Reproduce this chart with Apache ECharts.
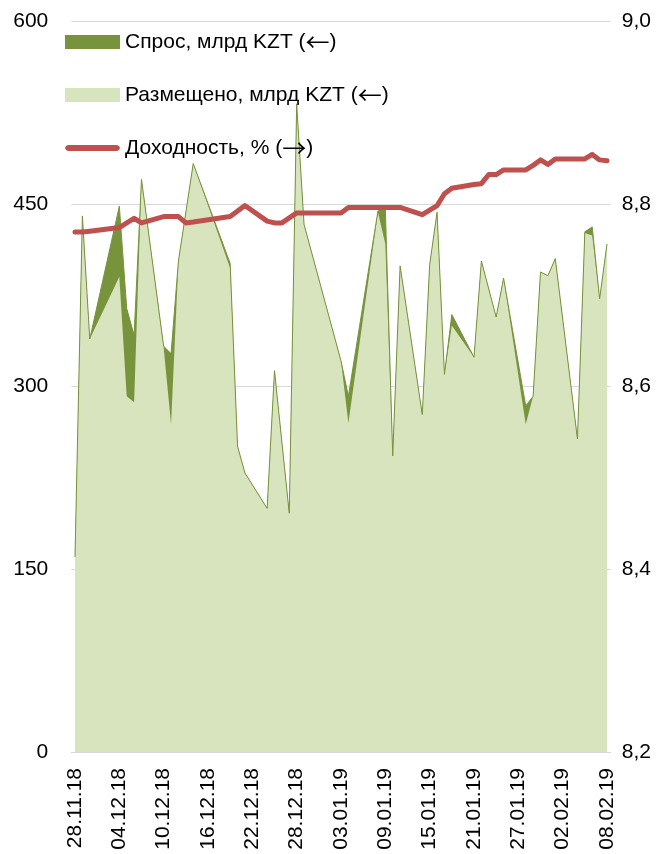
<!DOCTYPE html>
<html>
<head>
<meta charset="utf-8">
<script src="https://cdn.jsdelivr.net/npm/echarts@6/dist/echarts.min.js"></script>
<style>
html,body{margin:0;padding:0;background:#fff;}
#chart{width:669px;height:854px;}
</style>
</head>
<body>
<div id="chart"></div>
<script>
const dates = ['28.11.18','29.11.18','30.11.18','01.12.18','02.12.18','03.12.18','04.12.18','05.12.18','06.12.18','07.12.18',
'08.12.18','09.12.18','10.12.18','11.12.18','12.12.18','13.12.18','14.12.18','15.12.18','16.12.18','17.12.18',
'18.12.18','19.12.18','20.12.18','21.12.18','22.12.18','23.12.18','24.12.18','25.12.18','26.12.18','27.12.18',
'28.12.18','29.12.18','30.12.18','31.12.18','01.01.19','02.01.19','03.01.19','04.01.19','05.01.19','06.01.19',
'07.01.19','08.01.19','09.01.19','10.01.19','11.01.19','12.01.19','13.01.19','14.01.19','15.01.19','16.01.19',
'17.01.19','18.01.19','19.01.19','20.01.19','21.01.19','22.01.19','23.01.19','24.01.19','25.01.19','26.01.19',
'27.01.19','28.01.19','29.01.19','30.01.19','31.01.19','01.02.19','02.02.19','03.02.19','04.02.19','05.02.19',
'06.02.19','07.02.19','08.02.19'];

const demand = [
160,440,339,null,null,null,448,364,342,470,
null,null,333,327,403,null,483,null,null,null,
null,401,251,229,null,null,200,313,null,196,
532,433,null,null,null,null,321,292,null,null,
null,444,446,243,399,null,null,277,400,443,
310,359,null,null,324,403,null,357,389,null,
null,284,292,394,391,405,null,null,257,427,
431,372,417];

const placed = [
160,440,339,null,null,null,390,292,287,470,
null,null,332,269,403,null,483,null,null,null,
null,397,251,229,null,null,200,313,null,196,
532,433,null,null,null,null,321,270,null,null,
null,443,417,243,399,null,null,277,400,443,
310,350,null,null,324,403,null,357,389,null,
null,269,292,394,391,405,null,null,257,426,
424,372,417];

const yieldPct = [
8.769,8.769,8.770,null,null,null,8.774,8.779,8.784,8.779,
null,null,8.786,8.786,8.786,8.779,8.780,null,null,null,
null,8.786,null,8.798,null,null,8.781,8.779,8.779,null,
8.790,8.790,null,null,null,null,8.790,8.796,null,null,
null,8.796,8.796,8.796,8.796,null,null,8.788,8.793,8.798,
8.811,8.817,null,null,8.821,8.822,8.832,8.832,8.837,null,
null,8.837,8.842,8.848,8.843,8.849,null,null,8.849,8.849,
8.854,8.848,8.847];

const seriesNames = ['Спрос, млрд KZT (←)', 'Размещено, млрд KZT (←)', 'Доходность, % (→)'];

const FONT = 'Liberation Sans';
const chart = echarts.init(document.getElementById('chart'), null, {renderer: 'canvas'});
chart.setOption({
  animation: false,
  backgroundColor: '#fff',
  textStyle: {fontFamily: FONT},
  grid: {left: 71.3, right: 58.3, top: 21, bottom: 102},
  legend: {
    orient: 'vertical', left: 65, top: 30, padding: 0,
    itemWidth: 55, itemHeight: 14, itemGap: 29,
    formatter: name => name.replace(/([←→])/, '{a|$1}'),
    textStyle: {fontSize: 21, fontFamily: FONT, color: '#000', lineHeight: 24,
      rich: {a: {fontFamily: 'Noto Sans CJK JP', fontSize: 24, lineHeight: 24, color: '#000'}}},
    data: [
      {name: seriesNames[0], icon: 'rect'},
      {name: seriesNames[1], icon: 'rect'},
      {name: seriesNames[2], icon: 'path://M3,0 L52,0 L54,1 L55,3 L54,5 L52,6 L3,6 L1,5 L0,3 L1,1 Z',
       itemStyle: {color: '#C0504D'}}
    ]
  },
  xAxis: {
    type: 'category', data: dates, boundaryGap: true,
    axisLine: {lineStyle: {color: '#D9D9D9', width: 1}},
    axisTick: {show: false},
    axisLabel: {interval: 5, rotate: 90, fontSize: 21, color: '#000', margin: 16, fontFamily: FONT}
  },
  yAxis: [
    {type: 'value', min: 0, max: 600, interval: 150,
     axisLine: {show: false}, axisTick: {show: false},
     splitLine: {lineStyle: {color: '#D9D9D9', width: 1}},
     axisLabel: {fontSize: 21, color: '#000', margin: 23, fontFamily: FONT}},
    {type: 'value', min: 8.2, max: 9.0, interval: 0.2, position: 'right',
     axisLine: {show: false}, axisTick: {show: false}, splitLine: {show: false},
     axisLabel: {fontSize: 21, color: '#000', margin: 11, fontFamily: FONT,
       formatter: v => v.toFixed(1).replace('.', ',')}}
  ],
  series: [
    {name: seriesNames[0], type: 'line', data: demand, connectNulls: true, symbol: 'none',
     itemStyle: {color: '#77933C'}, lineStyle: {color: '#77933C', width: 1},
     areaStyle: {color: '#77933C', opacity: 1}, z: 2},
    {name: seriesNames[1], type: 'line', data: placed, connectNulls: true, symbol: 'none',
     itemStyle: {color: '#D7E4BD'}, lineStyle: {color: '#D7E4BD', width: 0},
     areaStyle: {color: '#D7E4BD', opacity: 1}, z: 2},
    {name: seriesNames[2], type: 'line', yAxisIndex: 1, data: yieldPct, connectNulls: true, symbol: 'none',
     itemStyle: {color: '#C0504D'}, lineStyle: {color: '#C0504D', width: 5, join: 'round', cap: 'round'}, z: 3}
  ]
});
</script>
</body>
</html>
